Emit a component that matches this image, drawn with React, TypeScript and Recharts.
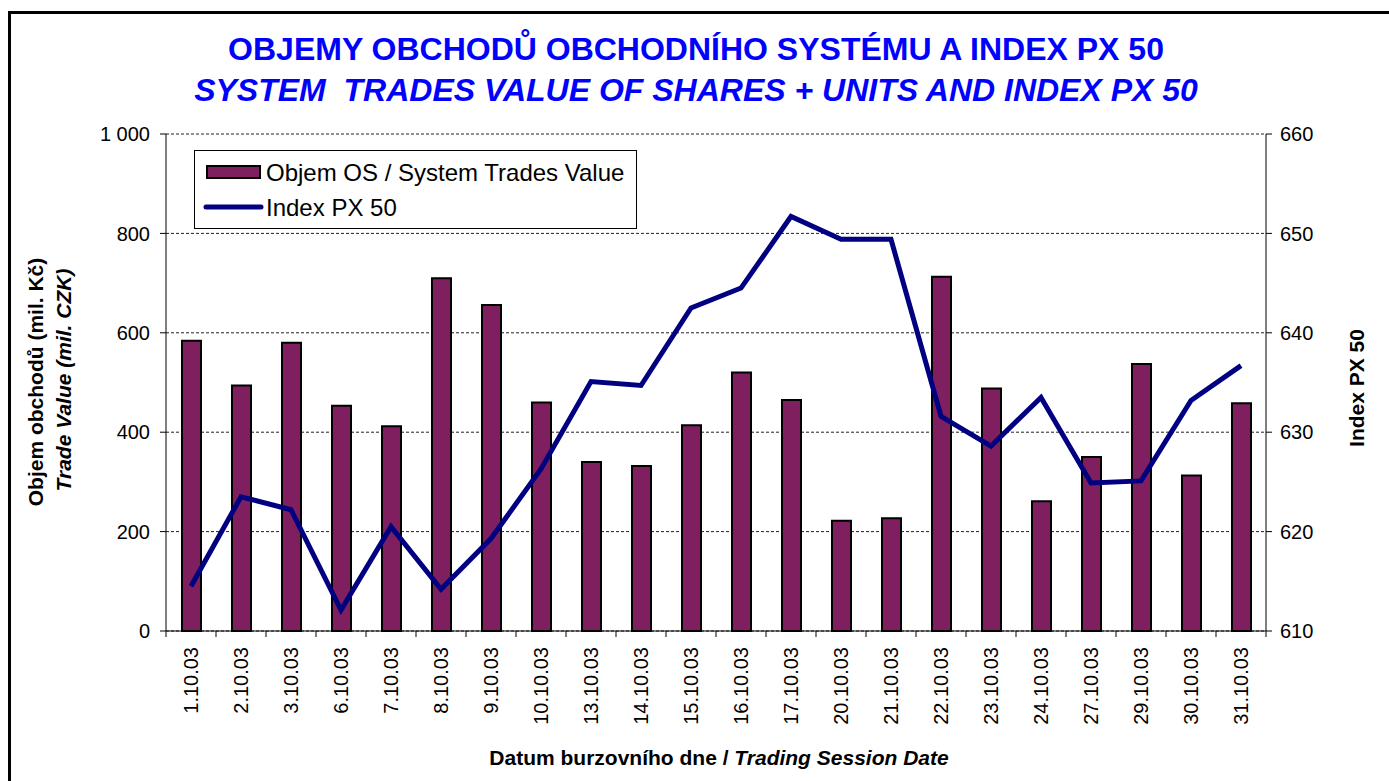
import React from 'react';
import { ComposedChart, Bar, Line, XAxis, YAxis, CartesianGrid, Legend } from 'recharts';

const dates = [
  '1.10.03', '2.10.03', '3.10.03', '6.10.03', '7.10.03', '8.10.03', '9.10.03', '10.10.03',
  '13.10.03', '14.10.03', '15.10.03', '16.10.03', '17.10.03', '20.10.03', '21.10.03', '22.10.03',
  '23.10.03', '24.10.03', '27.10.03', '29.10.03', '30.10.03', '31.10.03',
];
const tradeValues = [
  584, 494, 580, 453, 412, 710, 656, 460,
  340, 332, 414, 520, 465, 222, 227, 713,
  488, 261, 350, 537, 313, 458,
];
const px50Values = [
  614.5, 623.5, 622.2, 612.1, 620.5, 614.2, 619.3, 626.3,
  635.1, 634.7, 642.5, 644.5, 651.7, 649.4, 649.4, 631.6,
  628.6, 633.5, 624.9, 625.1, 633.2, 636.7,
];
const leftTicks = [0, 200, 400, 600, 800, 1000];
const rightTicks = [610, 620, 630, 640, 650, 660];

const BAR_NAME = 'Objem OS / System Trades Value';
const LINE_NAME = 'Index PX 50';

const data = dates.map((d, i) => ({ date: d, value: tradeValues[i], index: px50Values[i] }));

const FONT = '"Liberation Sans", Arial, Helvetica, sans-serif';
const BAR_COLOR = '#7F1F5F';
const LINE_COLOR = '#000080';
const TITLE_COLOR = '#0000FF';
const TICK_SIZE = 6;
const TICK_MARGIN = 10;

const fmtThousands = (v: number) => String(v).replace(/\B(?=(\d{3})+(?!\d))/g, ' ');

const XTick = (props: any) => {
  const { x, y, payload, index } = props;
  const half = payload && payload.offset ? payload.offset : 25;
  const axisY = y - TICK_SIZE - TICK_MARGIN;
  return (
    <g>
      <line x1={x - half} x2={x - half} y1={axisY} y2={axisY + TICK_SIZE} stroke="#000" strokeWidth={1} />
      {index === data.length - 1 && (
        <line x1={x + half} x2={x + half} y1={axisY} y2={axisY + TICK_SIZE} stroke="#000" strokeWidth={1} />
      )}
      <text
        x={x}
        y={y}
        transform={`rotate(-90, ${x}, ${y})`}
        textAnchor="end"
        dy="0.36em"
        fontSize={20}
        fontFamily={FONT}
        fill="#000"
      >
        {payload.value}
      </text>
    </g>
  );
};

const LegendBox = (props: any) => {
  const raw = (props && props.payload) || [];
  const payload = [...raw].sort((a: any, b: any) => (a.type === 'line' ? 1 : 0) - (b.type === 'line' ? 1 : 0));
  return (
    <svg width={443} height={79} style={{ display: 'block' }}>
      <rect x={0.5} y={0.5} width={442} height={78} fill="#fff" stroke="#000" strokeWidth={1} />
      {payload.map((entry: any, i: number) => {
        const isLine = entry.type === 'line';
        const rowY = i === 0 ? 22 : 57;
        return (
          <g key={i}>
            {isLine ? (
              <line x1={12} x2={67} y1={rowY} y2={rowY} stroke={LINE_COLOR} strokeWidth={5} strokeLinecap="round" />
            ) : (
              <rect x={13} y={rowY - 6} width={53} height={12} fill={BAR_COLOR} stroke="#000" strokeWidth={2} />
            )}
            <text x={72} y={rowY} dy="0.36em" fontSize={24} fontFamily={FONT} fill="#000">
              {entry.value}
            </text>
          </g>
        );
      })}
    </svg>
  );
};

export default function App() {
  return (
    <div style={{ position: 'absolute', left: 0, top: 0, width: 1389, height: 781, background: '#fff', overflow: 'hidden' }}>
      <ComposedChart
        width={1389}
        height={781}
        data={data}
        margin={{ top: 134, right: 63, left: 106, bottom: 40 }}
        barCategoryGap={0}
      >
        <CartesianGrid
          yAxisId="left"
          vertical={false}
          stroke="#222"
          strokeDasharray="3 2"
          strokeWidth={1}
        />
        <XAxis
          dataKey="date"
          xAxisId={0}
          height={110}
          interval={0}
          tickLine={false}
          tickSize={TICK_SIZE}
          tickMargin={TICK_MARGIN}
          axisLine={{ stroke: '#000', strokeWidth: 1 }}
          tick={<XTick />}
        />
        <YAxis
          yAxisId="left"
          orientation="left"
          width={60}
          domain={[0, 1000]}
          ticks={leftTicks}
          interval={0}
          tickFormatter={fmtThousands}
          tickSize={TICK_SIZE}
          tickMargin={10}
          axisLine={{ stroke: '#000', strokeWidth: 1 }}
          tickLine={{ stroke: '#000', strokeWidth: 1 }}
          tick={{ fontSize: 20, fontFamily: FONT, fill: '#000' }}
        />
        <YAxis
          yAxisId="right"
          orientation="right"
          width={60}
          domain={[610, 660]}
          ticks={rightTicks}
          interval={0}
          tickSize={TICK_SIZE}
          tickMargin={8}
          axisLine={{ stroke: '#000', strokeWidth: 1 }}
          tickLine={{ stroke: '#000', strokeWidth: 1 }}
          tick={{ fontSize: 20, fontFamily: FONT, fill: '#000' }}
        />
        <Legend
          layout="vertical"
          align="center"
          verticalAlign="middle"
          content={<LegendBox />}
          wrapperStyle={{ left: 194, top: 150, width: 443, height: 79 }}
        />
        <Bar
          yAxisId="left"
          dataKey="value"
          name={BAR_NAME}
          fill={BAR_COLOR}
          stroke="#000"
          strokeWidth={2}
          barSize={19}
          legendType="rect"
          isAnimationActive={false}
        />
        <Line
          yAxisId="right"
          dataKey="index"
          name={LINE_NAME}
          type="linear"
          stroke={LINE_COLOR}
          strokeWidth={5}
          dot={false}
          activeDot={false}
          legendType="line"
          isAnimationActive={false}
        />
      </ComposedChart>
      <svg
        width={1389}
        height={781}
        style={{ position: 'absolute', left: 0, top: 0, pointerEvents: 'none' }}
      >
        <rect x={8} y={11} width={1381} height={3} fill="#000" />
        <rect x={8} y={11} width={3} height={770} fill="#000" />
        <text x={696} y={60} textAnchor="middle" fontSize={32} fontWeight="bold" fontFamily={FONT} fill={TITLE_COLOR}>
          OBJEMY OBCHODŮ OBCHODNÍHO SYSTÉMU A INDEX PX 50
        </text>
        <text x={696} y={101} textAnchor="middle" fontSize={32} fontWeight="bold" fontStyle="italic" fontFamily={FONT} fill={TITLE_COLOR} style={{ whiteSpace: 'pre' }}>
          {'SYSTEM  TRADES VALUE OF SHARES + UNITS AND INDEX PX 50'}
        </text>
        <text x={43} y={382} transform="rotate(-90, 43, 382)" textAnchor="middle" fontSize={21} fontWeight="bold" fontFamily={FONT} fill="#000">
          Objem obchodů (mil. Kč)
        </text>
        <text x={71} y={380} transform="rotate(-90, 71, 380)" textAnchor="middle" fontSize={21} fontWeight="bold" fontStyle="italic" fontFamily={FONT} fill="#000">
          Trade Value (mil. CZK)
        </text>
        <text x={1364} y={388} transform="rotate(-90, 1364, 388)" textAnchor="middle" fontSize={21} fontWeight="bold" fontFamily={FONT} fill="#000">
          Index PX 50
        </text>
        <text x={719} y={765} textAnchor="middle" fontSize={21} fontWeight="bold" fontFamily={FONT} fill="#000">
          <tspan>{'Datum burzovního dne / '}</tspan>
          <tspan fontStyle="italic">Trading Session Date</tspan>
        </text>
      </svg>
    </div>
  );
}
